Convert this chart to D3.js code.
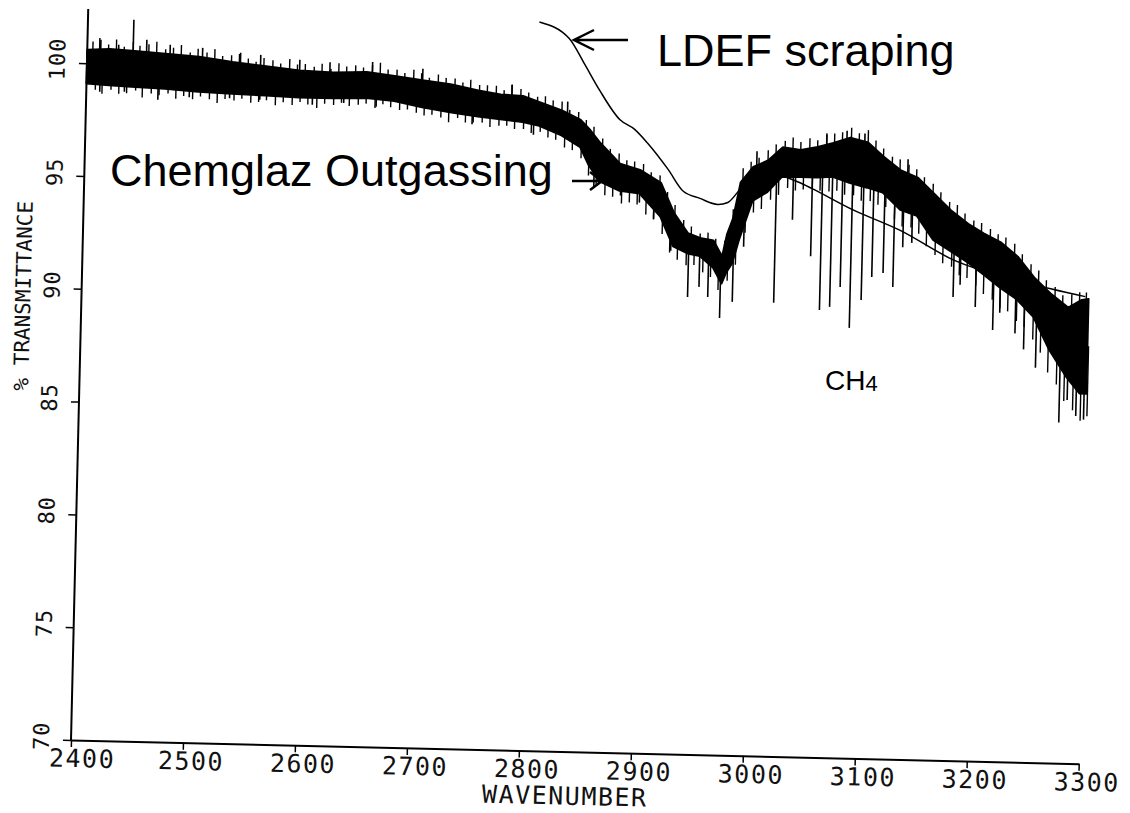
<!DOCTYPE html>
<html>
<head>
<meta charset="utf-8">
<script src="https://cdn.jsdelivr.net/npm/d3@7"></script>
<style>
  body { margin: 0; background: #fff; }
  svg { display: block; }
  .note { font-family: "Liberation Sans", Arial, Helvetica, sans-serif; fill: #000; }
</style>
</head>
<body>
<div id="chart"></div>
<script>
// axis ticks
const xTicks = [2400, 2500, 2600, 2700, 2800, 2900, 3000, 3100, 3200, 3300];
const yTicks = [70, 75, 80, 85, 90, 95, 100];

// Chemglaz outgassing spectrum: the noisy trace read as an upper / lower envelope (% T)
const bandW = [2400, 2420, 2440, 2470, 2500, 2530, 2560, 2590, 2620, 2650, 2675, 2700, 2725, 2750, 2770, 2790,
  2805, 2825, 2842, 2850, 2860, 2878, 2896, 2915, 2927, 2940, 2951, 2963, 2971, 2975, 2980, 2986, 2997,
  3010, 3023, 3039, 3054, 3068, 3083, 3099, 3113, 3129, 3144, 3159, 3174, 3190, 3204, 3220, 3235,
  3250, 3265, 3281, 3293, 3299];
const bandTop = [100.6, 100.65, 100.6, 100.5, 100.4, 100.2, 100.05, 99.9, 99.85, 99.9, 99.75, 99.6, 99.45, 99.2, 99.05, 99.0,
  98.75, 98.4, 98.0, 97.6, 97.0, 96.1, 95.85, 95.3, 94.0, 93.1, 92.9, 92.8, 92.1, 93.1, 93.8, 95.4, 96.1,
  96.4, 97.0, 96.9, 97.05, 97.25, 97.5, 97.3, 96.7, 96.1, 95.8, 95.1, 94.4, 93.8, 93.4, 93.0, 92.4,
  91.5, 90.8, 90.2, 90.55, 90.6];
const bandBottom = [99.1, 99.05, 99.0, 98.95, 98.85, 98.8, 98.75, 98.7, 98.7, 98.75, 98.65, 98.4, 98.2, 98.05, 97.95, 97.85,
  97.7, 97.3, 96.8, 96.0, 95.3, 94.9, 94.8, 93.8, 92.5, 92.2, 92.1, 91.6, 90.9, 91.4, 91.8, 92.9, 94.6,
  95.0, 95.7, 95.7, 95.7, 95.75, 95.5, 95.3, 95.1, 94.35, 94.1, 93.05, 92.6, 92.1, 91.6, 91.0, 90.5,
  89.75, 88.3, 87.1, 86.4, 86.4];

// fine noise on the trace: how far (% T) it pokes above the top / below the bottom of the envelope
const noiseW = [2405, 2411, 2419, 2426, 2433, 2441, 2447, 2455, 2462, 2470,
  2477, 2484, 2492, 2499, 2507, 2514, 2521, 2529, 2536, 2544,
  2551, 2558, 2566, 2573, 2581, 2588, 2595, 2603, 2610, 2618,
  2625, 2632, 2640, 2647, 2655, 2662, 2669, 2677, 2684, 2692,
  2699, 2706, 2714, 2721, 2729, 2736, 2743, 2751, 2758, 2766,
  2773, 2780, 2788, 2795, 2803, 2810, 2817, 2825, 2832, 2840,
  2847, 2854, 2862, 2869, 2877, 2884, 2891, 2899, 2906, 2914,
  2921, 2928, 2936, 2943, 2951, 2958, 2965, 2973, 2980, 2988,
  2995, 3002, 3010, 3017, 3025, 3032, 3039, 3047, 3054, 3062,
  3069, 3076, 3084, 3091, 3099, 3106, 3113, 3121, 3128, 3136,
  3143, 3150, 3158, 3165, 3173, 3180, 3187, 3195, 3202, 3210,
  3217, 3224, 3232, 3239, 3247, 3254, 3261, 3269, 3276, 3284,
  3291, 3297];
const noiseUp = [0.35, 0.5, 0.2, 0.45, 0.15, 0.4, 0.25, 0.35, 0.5, 0.2,
  0.3, 0.45, 0.15, 0.35, 0.25, 0.45, 0.2, 0.3, 0.4, 0.25,
  0.15, 0.35, 0.3, 0.2, 0.45, 0.25, 0.3, 0.2, 0.35, 0.15,
  0.4, 0.25, 0.3, 0.2, 0.35, 0.5, 0.25, 0.3, 0.2, 0.4,
  0.3, 0.15, 0.35, 0.25, 0.3, 0.2, 0.4, 0.25, 0.3, 0.35,
  0.2, 0.45, 0.3, 0.25, 0.2, 0.35, 0.3, 0.4, 0.2, 0.3,
  0.25, 0.35, 0.3, 0.2, 0.4, 0.25, 0.3, 0.35, 0.2, 0.3,
  0.25, 0.4, 0.3, 0.35, 0.2, 0.3, 0.25, 0.2, 0.4, 0.5,
  0.35, 0.3, 0.45, 0.4, 0.3, 0.5, 0.35, 0.45, 0.3, 0.5,
  0.4, 0.35, 0.45, 0.3, 0.55, 0.4, 0.35, 0.3, 0.45, 0.4,
  0.35, 0.3, 0.4, 0.35, 0.3, 0.45, 0.35, 0.3, 0.4, 0.35,
  0.3, 0.4, 0.45, 0.35, 0.4, 0.5, 0.4, 0.45, 0.35, 0.5,
  0.4, 0.3];
const noiseDown = [0.25, 0.4, 0.2, 0.35, 0.3, 0.15, 0.45, 0.25, 0.3, 0.2,
  0.4, 0.25, 0.35, 0.2, 0.3, 0.45, 0.25, 0.3, 0.2, 0.35,
  0.3, 0.2, 0.4, 0.25, 0.35, 0.2, 0.3, 0.45, 0.25, 0.3,
  0.2, 0.35, 0.3, 0.25, 0.4, 0.2, 0.3, 0.35, 0.25, 0.3,
  0.35, 0.25, 0.3, 0.45, 0.2, 0.35, 0.3, 0.25, 0.4, 0.3,
  0.25, 0.35, 0.3, 0.4, 0.25, 0.35, 0.3, 0.45, 0.35, 0.4,
  0.45, 0.35, 0.5, 0.4, 0.55, 0.45, 0.5, 0.6, 0.45, 0.55,
  0.6, 0.5, 0.55, 0.45, 0.6, 0.5, 0.55, 0.45, 0.6, 0.5,
  0.55, 0.6, 0.5, 0.65, 0.5, 0.6, 0.55, 0.5, 0.6, 0.65,
  0.55, 0.6, 0.5, 0.65, 0.55, 0.6, 0.5, 0.65, 0.7, 0.6,
  0.65, 0.7, 0.6, 0.75, 0.65, 0.8, 0.7, 0.75, 0.85, 0.8,
  0.9, 0.8, 0.95, 0.85, 1.0, 0.9, 1.1, 1.0, 1.2, 1.1,
  1.2, 1.0];

// single strong spikes and CH4 absorption lines: wavenumber and the % T the spike reaches
const spikeW = [2412, 2428, 2441, 2453, 2474, 2503, 2537, 2555, 2590, 2617, 2655, 2700, 2780, 2830,
  2412, 2434, 2464, 2492, 2528, 2555, 2602, 2630, 2659, 2745, 2800, 2855, 2879, 2896, 2909, 2925,
  2941, 2951, 2959, 2970, 2981, 2990, 3018, 3033, 3050, 3059, 3068, 3077, 3086, 3096, 3105, 3115,
  3124, 3132, 3140, 3178, 3184, 3198, 3214, 3220, 3234, 3242, 3253, 3275, 3282, 3290, 3297,
  3000, 3062, 3080, 3096, 3135];
const spikeV = [101.05, 100.85, 101.97, 101.1, 100.9, 100.8, 100.62, 100.55, 100.37, 100.3, 100.35, 100.1, 99.5, 98.8,
  98.75, 98.77, 98.45, 98.6, 98.6, 98.56, 98.39, 98.5, 98.37, 97.7, 97.3, 95.0, 94.7, 94.4, 93.7, 92.3,
  90.27, 90.73, 90.29, 89.37, 90.1, 92.55, 90.1, 93.8, 92.2, 89.83, 89.98, 90.87, 89.07, 90.32, 91.35, 91.54,
  90.93, 92.7, 92.9, 90.55, 91.1, 90.13, 89.13, 89.9, 89.0, 88.3, 87.5, 85.1, 86.1, 85.4, 85.25,
  96.8, 97.6, 97.8, 97.7, 96.6];

// LDEF scraping trace (% T)
const ldefW = [2803, 2830, 2844, 2858, 2877, 2890, 2902, 2921, 2935, 2950, 2966, 2975, 2985, 2996, 3003,
  3039, 3050, 3087, 3129, 3177, 3243, 3296];
const ldefT = [102.3, 101.6, 100.5, 99.35, 98.05, 97.65, 97.05, 95.9, 94.95, 94.65, 94.4, 94.5, 95.05, 95.6, 95.9,
  95.45, 95.2, 94.3, 93.45, 92.2, 91.25, 90.7];

const W = 1130, H = 813;
const monoFont = "'DejaVu Sans Mono', 'Liberation Mono', monospace";

const svg = d3.select("#chart").append("svg")
  .attr("width", W)
  .attr("height", H);

svg.append("rect").attr("width", W).attr("height", H).attr("fill", "#fff");

const x = d3.scaleLinear().domain([2400, 3300]).range([71, 1079]);
const y = d3.scaleLinear().domain([70, 100]).range([740, 63]);

// the scanned plot sits slightly tilted
const plot = svg.append("g").attr("transform", "rotate(1.35, 71, 740)");

// x axis
const xAxis = plot.append("g")
  .attr("transform", `translate(0,${y(70)})`)
  .call(d3.axisBottom(x).tickValues(xTicks).tickSize(7).tickSizeOuter(0).tickFormat(d3.format("d")))
  .attr("font-family", monoFont)
  .attr("font-size", 25);
xAxis.select(".domain").attr("stroke-width", 2);
xAxis.selectAll(".tick line").attr("stroke-width", 1.5);
xAxis.selectAll(".tick text")
  .attr("y", 27).attr("dy", 0).attr("dx", d => d === 2400 ? 11 : 8)
  .attr("letter-spacing", 1.5)
  .attr("fill", "#111");

// y axis
const yAxis = plot.append("g")
  .attr("transform", `translate(${x(2400)},0)`)
  .call(d3.axisLeft(y).tickValues(yTicks).tickSize(8).tickSizeOuter(0))
  .attr("font-family", monoFont)
  .attr("font-size", 22);
yAxis.select(".domain").remove();
yAxis.selectAll(".tick line").attr("stroke-width", 1.5);
yAxis.selectAll(".tick text")
  .attr("transform", "rotate(-90)")
  .attr("x", 4).attr("y", -22).attr("dy", 0)
  .attr("text-anchor", "middle")
  .attr("letter-spacing", 1)
  .attr("fill", "#111");

plot.append("line")
  .attr("x1", x(2400)).attr("x2", x(2400))
  .attr("y1", y(70)).attr("y2", y(102.4))
  .attr("stroke", "#000").attr("stroke-width", 2);

plot.append("text")
  .attr("transform", `translate(20,297) rotate(-90)`)
  .attr("text-anchor", "middle")
  .attr("font-family", monoFont)
  .attr("font-size", 21)
  .attr("fill", "#111")
  .text("% TRANSMITTANCE");

plot.append("text")
  .attr("x", 566).attr("y", 793)
  .attr("text-anchor", "middle")
  .attr("font-family", monoFont)
  .attr("font-size", 25)
  .attr("letter-spacing", 1.5)
  .attr("fill", "#111")
  .text("WAVENUMBER");

// Chemglaz band
const band = bandW.map((w, i) => ({ w, top: bandTop[i], bot: bandBottom[i] }));
const area = d3.area()
  .x(d => x(d.w))
  .y0(d => y(d.bot))
  .y1(d => y(d.top));

plot.append("path")
  .datum(band)
  .attr("d", area)
  .attr("fill", "#000")
  .attr("stroke", "#000")
  .attr("stroke-width", 2)
  .attr("stroke-linejoin", "round");

// envelope value at a wavenumber, to hang noise and spikes from
const bisect = d3.bisector(d => d.w).left;
function bandAt(w, key) {
  let i = Math.max(1, Math.min(band.length - 1, bisect(band, w)));
  let a = band[i - 1], b = band[i];
  let t = (w - a.w) / (b.w - a.w);
  let va = key === "mid" ? (a.top + a.bot) / 2 : a[key];
  let vb = key === "mid" ? (b.top + b.bot) / 2 : b[key];
  return va * (1 - t) + vb * t;
}

const noise = noiseW.map((w, i) => ({ w, up: noiseUp[i], down: noiseDown[i] }));

plot.selectAll(".noise-up")
  .data(noise)
  .enter()
  .append("line")
  .attr("class", "noise-up")
  .attr("x1", d => x(d.w)).attr("x2", d => x(d.w))
  .attr("y1", d => y(bandAt(d.w, "mid"))).attr("y2", d => y(bandAt(d.w, "top") + d.up))
  .attr("stroke", "#000")
  .attr("stroke-width", 1.4);

plot.selectAll(".noise-down")
  .data(noise)
  .enter()
  .append("line")
  .attr("class", "noise-down")
  .attr("x1", d => x(d.w + 3)).attr("x2", d => x(d.w + 3))
  .attr("y1", d => y(bandAt(d.w + 3, "mid"))).attr("y2", d => y(bandAt(d.w + 3, "bot") - d.down))
  .attr("stroke", "#000")
  .attr("stroke-width", 1.4);

plot.selectAll(".spike")
  .data(spikeW.map((w, i) => ({ w, v: spikeV[i] })))
  .enter()
  .append("line")
  .attr("class", "spike")
  .attr("x1", d => x(d.w)).attr("x2", d => x(d.w))
  .attr("y1", d => y(bandAt(d.w, "mid"))).attr("y2", d => y(d.v))
  .attr("stroke", "#000")
  .attr("stroke-width", 1.6);

// LDEF trace
const ldef = ldefW.map((w, i) => ({ w, v: ldefT[i] }));
plot.append("path")
  .datum(ldef)
  .attr("d", d3.line().x(d => x(d.w)).y(d => y(d.v)).curve(d3.curveMonotoneX))
  .attr("fill", "none")
  .attr("stroke", "#000")
  .attr("stroke-width", 1.5);

// annotations (pasted on the page, not tilted)
svg.append("text")
  .attr("class", "note")
  .attr("x", 657).attr("y", 66)
  .attr("font-size", 45)
  .text("LDEF scraping");

svg.append("path")
  .attr("d", "M628,40 L574,40 M594,30 L574,40 L594,50")
  .attr("fill", "none").attr("stroke", "#000").attr("stroke-width", 2.5);

svg.append("text")
  .attr("class", "note")
  .attr("x", 110).attr("y", 186)
  .attr("font-size", 45)
  .text("Chemglaz Outgassing");

svg.append("path")
  .attr("d", "M572,181 L602,181 M590,172 L602,181 L590,190")
  .attr("fill", "none").attr("stroke", "#000").attr("stroke-width", 2.5);

const ch4 = svg.append("text")
  .attr("class", "note")
  .attr("x", 825).attr("y", 390)
  .attr("font-size", 28);
ch4.append("tspan").text("CH");
ch4.append("tspan").attr("font-size", 22).attr("dy", 1).text("4");
</script>
</body>
</html>
